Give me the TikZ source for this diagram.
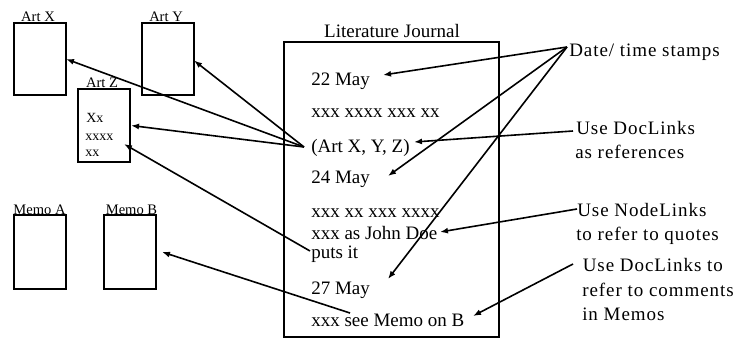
\documentclass[tikz,border=0pt]{standalone}
\usepackage{fontspec}
\setmainfont{Liberation Serif}
\newfontfamily\widefont[LetterSpace=5]{Liberation Serif}
\usetikzlibrary{arrows.meta}
\begin{document}
\begin{tikzpicture}[x=0.75pt,y=-0.75pt,
  box/.style={draw,line width=1.5pt,inner sep=0,anchor=north west},
  lbl/.style={font=\fontsize{10.9}{12}\selectfont, anchor=base, inner sep=0},
  small/.style={font=\fontsize{10.5}{12}\selectfont, anchor=base west, inner sep=0},
  jt/.style={font=\fontsize{14.25}{16}\selectfont, anchor=base west, inner sep=0},
  rt/.style={font=\widefont\fontsize{14.25}{16}\selectfont, anchor=base west, inner sep=0},
  arr/.style={line width=1.2pt, -{Latex[length=6pt,width=4.5pt]}},
]
\useasboundingbox (0,0) rectangle (738,349);
% boxes
\node[box, minimum width=39pt, minimum height=54pt] (artx) at (13,22) {};
\node[box, minimum width=39pt, minimum height=54pt] (arty) at (141,22) {};
\node[box, minimum width=39pt, minimum height=54.5pt] (artz) at (77,88) {};
\node[box, minimum width=39pt, minimum height=55.5pt] (memoa) at (13,214) {};
\node[box, minimum width=39pt, minimum height=55.5pt] (memob) at (103,214) {};
\node[box, minimum width=161.25pt, minimum height=221.25pt] (journal) at (283,41) {};
% box labels
\node[lbl] (lartx) at (38,22) {Art X};
\node[lbl] (larty) at (166,22) {Art Y};
\node[lbl] (lartz) at (102,88) {Art Z};
\node[lbl] (lmemoa) at (39.5,214) {Memo A};
\node[lbl] (lmemob) at (131.5,214) {Memo B};
\node[jt, anchor=base] (ljournal) at (392,37.5) {Literature Journal};
% Art Z contents
\node[small] (z1) at (86,122.5) {Xx};
\node[small] (z2) at (85,140.5) {xxxx};
\node[small] (z3) at (85,156.5) {xx};
% journal lines
\node[jt] (j1) at (311,86) {22 May};
\node[jt] (j2) at (311,118) {xxx xxxx xxx xx};
\node[jt] (j3) at (311,152) {(Art X, Y, Z)};
\node[jt] (j4) at (311,183) {24 May};
\node[jt] (j5) at (311,217) {xxx xx xxx xxxx};
\node[jt] (j6) at (311,239) {xxx as John Doe};
\node[jt] (j7) at (311,258) {puts it};
\node[jt] (j8) at (311,294) {27 May};
\node[jt] (j9) at (311,326) {xxx see Memo on B};
% right labels
\node[rt] (r1) at (569,57) {Date/ time stamps};
\node[rt] (r2a) at (576,135) {Use DocLinks};
\node[rt] (r2b) at (575,158) {as references};
\node[rt] (r3a) at (577,216) {Use NodeLinks};
\node[rt] (r3b) at (576,240) {to refer to quotes};
\node[rt] (r4a) at (582.5,271) {Use DocLinks to};
\node[rt] (r4b) at (582,296) {refer to comments};
\node[rt] (r4c) at (582,320) {in Memos};
% connector anchor points
\coordinate (tdate) at (567,47);
\coordinate (h22) at (383,75);
\coordinate (h24) at (388,176);
\coordinate (h27) at (388,279);
\coordinate (tdoc) at (573,131);
\coordinate (hparen) at (414,142);
\coordinate (tnode) at (577,209);
\coordinate (hdoe) at (440,232);
\coordinate (tmemo) at (573,264);
\coordinate (hb) at (473,316);
\coordinate (tart) at (304,147);
\coordinate (hx) at (66,59);
\coordinate (hy) at (194,60.5);
\coordinate (hz) at (131,125.5);
\coordinate (tputs) at (310,251);
\coordinate (hz2) at (124,144);
\coordinate (tsee) at (350,313);
\coordinate (hmb) at (162,252);
% connectors
\draw[arr] (tdate) -- (h22);
\draw[arr] (tdate) -- (h24);
\draw[arr] (tdate) -- (h27);
\draw[arr] (tdoc) -- (hparen);
\draw[arr] (tnode) -- (hdoe);
\draw[arr] (tmemo) -- (hb);
\draw[arr] (tart) -- (hx);
\draw[arr] (tart) -- (hy);
\draw[arr] (tart) -- (hz);
\draw[arr] (tputs) -- (hz2);
\draw[arr] (tsee) -- (hmb);
\end{tikzpicture}
\end{document}
